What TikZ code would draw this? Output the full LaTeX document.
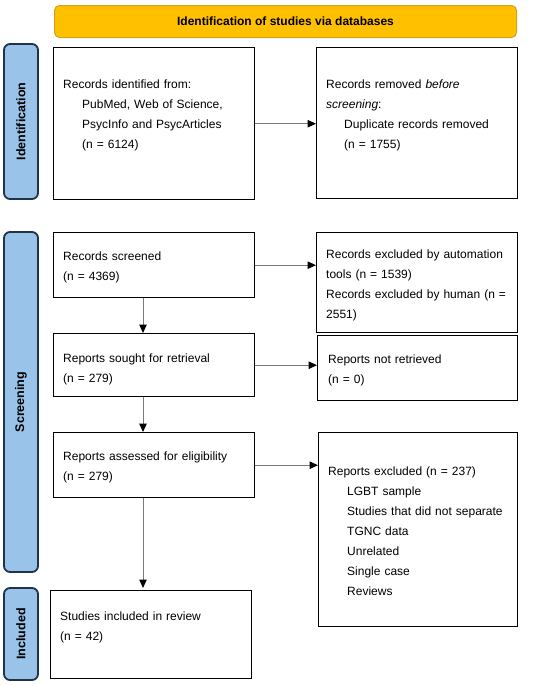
\documentclass[tikz,border=0pt]{standalone}
\usepackage{fontspec}
\setmainfont{Liberation Sans}
\usetikzlibrary{arrows.meta,calc}
\definecolor{bannerfill}{HTML}{FFC000}
\definecolor{bannerdraw}{HTML}{D4A31A}
\definecolor{sidefill}{HTML}{9AC3EA}
\definecolor{sidedraw}{HTML}{1F3447}
\definecolor{arrowgray}{HTML}{7A7A7A}
\begin{document}
\begin{tikzpicture}[x=1pt,y=-1pt,
  box/.style={draw=black,line width=1.4pt,inner sep=0pt,anchor=north west},
  txt/.style={anchor=base west,inner sep=0pt,text width=195pt,align=left,font=\fontsize{12}{20}\selectfont},
  sidebar/.style={draw=sidedraw,fill=sidefill,line width=1.8pt,rounded corners=6pt,rotate=90,inner sep=0pt,font=\fontsize{12.5}{14}\selectfont\bfseries},
  banner/.style={draw=bannerdraw,fill=bannerfill,line width=1pt,rounded corners=5pt,inner sep=0pt,anchor=north west,font=\fontsize{12}{14}\selectfont\bfseries},
  arr/.style={draw=arrowgray,line width=1pt,-{Triangle[length=8.5pt,width=7.5pt,color=black]}}
]
\useasboundingbox (0,0) rectangle (550,686);
\fill[white] (0,0) rectangle (550,686);

% banner
\node[banner,minimum width=462pt,minimum height=32pt] (ban) at (54,5) {Identification of studies via databases};

% side bars
\node[sidebar,minimum width=155pt,minimum height=34pt] (sid) at (21,121.5) {Identification};
\node[sidebar,minimum width=340pt,minimum height=34pt] (sscr) at (21,402) {Screening};
\node[sidebar,minimum width=92pt,minimum height=34pt] (sinc) at (21,634) {Included};

% boxes
\node[box,minimum width=201pt,minimum height=152pt] (b1) at (53,47) {};
\node[box,minimum width=201pt,minimum height=151pt] (b2) at (316,47) {};
\node[box,minimum width=201pt,minimum height=65pt] (scr) at (53,232) {};
\node[box,minimum width=201pt,minimum height=100pt] (ex1) at (316,232) {};
\node[box,minimum width=201pt,minimum height=63pt] (sou) at (53,333) {};
\node[box,minimum width=200pt,minimum height=65pt] (ex2) at (317,335) {};
\node[box,minimum width=201pt,minimum height=65pt] (ass) at (53,432) {};
\node[box,minimum width=199pt,minimum height=194pt] (ex3) at (318,432) {};
\node[box,minimum width=201pt,minimum height=88pt] (inc) at (50,590) {};

% texts
\node[txt] (t1) at (63,88) {Records identified from:\\\hspace*{19pt}PubMed, Web of Science,\\\hspace*{19pt}PsycInfo and PsycArticles\\\hspace*{19pt}(n = 6124)};
\node[txt] (t2) at (326,88) {Records removed \textit{before}\\\textit{screening}:\\\hspace*{18pt}Duplicate records removed\\\hspace*{18pt}(n = 1755)};
\node[txt] (t3) at (63,260) {Records screened\\(n = 4369)};
\node[txt] (t4) at (326,258) {Records excluded by automation\\tools (n = 1539)\\Records excluded by human (n =\\2551)};
\node[txt] (t5) at (63,362) {Reports sought for retrieval\\(n = 279)};
\node[txt] (t6) at (328,363) {Reports not retrieved\\(n = 0)};
\node[txt] (t7) at (63,460) {Reports assessed for eligibility\\(n = 279)};
\node[txt] (t8) at (328,475) {Reports excluded (n = 237)\\\hspace*{19pt}LGBT sample\\\hspace*{19pt}\makebox[161pt][s]{Studies that did not separate}\\\hspace*{19pt}TGNC data\\\hspace*{19pt}Unrelated\\\hspace*{19pt}Single case\\\hspace*{19pt}Reviews};
\node[txt] (t9) at (60,620) {Studies included in review\\(n = 42)};

% connectors
\coordinate (ax) at (143,0);
\draw[arr] (b1.east) -- (b1.east -| b2.west);
\draw[arr] (scr.east) -- (scr.east -| ex1.west);
\draw[arr] (sou.east) -- (sou.east -| ex2.west);
\draw[arr] (ass.east) -- (ass.east -| ex3.west);
\draw[arr] (scr.south -| ax) -- (sou.north -| ax);
\draw[arr] (sou.south -| ax) -- (ass.north -| ax);
\draw[arr] (ass.south -| ax) -- ($(inc.north -| ax)+(0,-2)$);
\end{tikzpicture}
\end{document}
